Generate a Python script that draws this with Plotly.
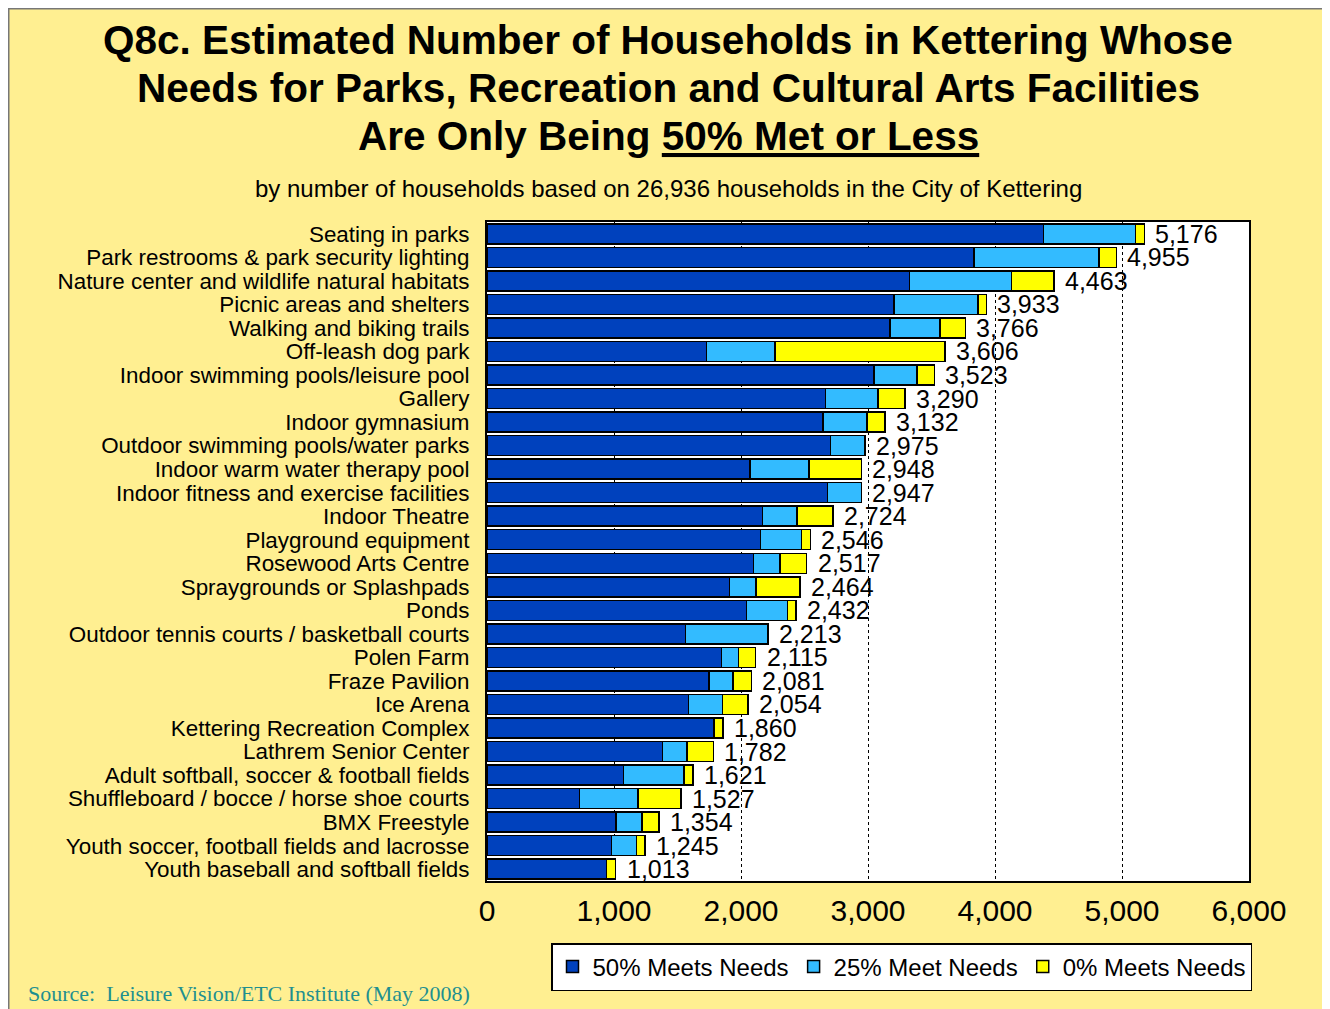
import plotly.graph_objects as go

categories = [
    "Seating in parks",
    "Park restrooms & park security lighting",
    "Nature center and wildlife natural habitats",
    "Picnic areas and shelters",
    "Walking and biking trails",
    "Off-leash dog park",
    "Indoor swimming pools/leisure pool",
    "Gallery",
    "Indoor gymnasium",
    "Outdoor swimming pools/water parks",
    "Indoor warm water therapy pool",
    "Indoor fitness and exercise facilities",
    "Indoor Theatre",
    "Playground equipment",
    "Rosewood Arts Centre",
    "Spraygrounds or Splashpads",
    "Ponds",
    "Outdoor tennis courts / basketball courts",
    "Polen Farm",
    "Fraze Pavilion",
    "Ice Arena",
    "Kettering Recreation Complex",
    "Lathrem Senior Center",
    "Adult softball, soccer & football fields",
    "Shuffleboard / bocce / horse shoe courts",
    "BMX Freestyle",
    "Youth soccer, football fields and lacrosse",
    "Youth baseball and softball fields",
]

meets50 = [4383, 3835, 3326, 3205, 3175, 1728, 3047, 2667, 2646, 2704, 2071, 2680, 2168, 2153,
           2100, 1911, 2043, 1562, 1848, 1748, 1588, 1787, 1383, 1074, 729, 1016, 982, 940]
meets25 = [723, 982, 803, 661, 390, 540, 337, 412, 346, 271, 464, 267, 273, 323,
           209, 207, 322, 651, 134, 189, 266, 0, 192, 478, 460, 204, 194, 0]
meets0 = [70, 138, 334, 67, 201, 1338, 139, 211, 140, 0, 413, 0, 283, 70,
          208, 346, 67, 0, 133, 144, 200, 73, 207, 69, 338, 134, 69, 73]
totals = [5176, 4955, 4463, 3933, 3766, 3606, 3523, 3290, 3132, 2975, 2948, 2947, 2724, 2546,
          2517, 2464, 2432, 2213, 2115, 2081, 2054, 1860, 1782, 1621, 1527, 1354, 1245, 1013]

series_names = ["50% Meets Needs", "25% Meet Needs", "0% Meets Needs"]
series_colors = ["#0041BD", "#33BBFF", "#FFFF00"]
tick_vals = [0, 1000, 2000, 3000, 4000, 5000, 6000]

FONT = "Liberation Sans, Arial, sans-serif"
BG = "#FFEF91"

# page has an 8px body margin: the figure starts at page (8, 8)
OFF = 8
W, H = 1330 - OFF, 1009 - OFF
L, R, T, B = 487 - OFF, 81, 222 - OFF, 128
PW, PH = W - L - R, H - T - B


def px(xp):
    return (xp - OFF - L) / PW


def py(yp):
    return (H - B - (yp - OFF)) / PH


fig = go.Figure()
for name, vals, col in zip(series_names, [meets50, meets25, meets0], series_colors):
    fig.add_trace(go.Bar(
        y=categories,
        x=[v if v else None for v in vals],
        name=name,
        orientation="h",
        marker=dict(color=col, line=dict(color="black", width=1.5)),
        hoverinfo="x+y",
    ))

annotations = []
for c, t in zip(categories, totals):
    annotations.append(dict(
        x=t, y=c, xref="x", yref="y", text=f"{t:,}", showarrow=False,
        xanchor="left", yanchor="middle", xshift=9,
        font=dict(family=FONT, size=25, color="black"),
    ))

title_lines = [
    "Q8c. Estimated Number of Households in Kettering Whose",
    "Needs for Parks, Recreation and Cultural Arts Facilities",
    "Are Only Being <u>50% Met or Less</u>",
]
for line, yp in zip(title_lines, [40, 88, 136]):
    annotations.append(dict(
        x=px(668), y=py(yp), xref="paper", yref="paper", text=f"<b>{line}</b>",
        showarrow=False, xanchor="center", yanchor="middle",
        font=dict(family=FONT, size=40.5, color="black"),
    ))

annotations.append(dict(
    x=px(668), y=py(188), xref="paper", yref="paper",
    text="by number of households based on 26,936 households in the City of Kettering",
    showarrow=False, xanchor="center", yanchor="middle",
    font=dict(family=FONT, size=24, color="black"),
))
annotations.append(dict(
    x=px(26), y=py(993), xref="paper", yref="paper",
    text="Source:  Leisure Vision/ETC Institute (May 2008)",
    showarrow=False, xanchor="left", yanchor="middle",
    font=dict(family="Liberation Serif, Times New Roman, serif", size=22, color="#1F8F8F"),
))

shapes = [
    dict(type="line", xref="paper", yref="paper", x0=px(OFF), x1=px(1335), y0=py(OFF), y1=py(OFF),
         line=dict(color="#777777", width=3)),
    dict(type="line", xref="paper", yref="paper", x0=px(OFF), x1=px(OFF), y0=py(OFF), y1=py(1015),
         line=dict(color="#777777", width=3)),
]

fig.update_layout(
    barmode="stack",
    bargap=0.15,
    width=W, height=H,
    margin=dict(l=L, r=R, t=T, b=B, autoexpand=False),
    paper_bgcolor=BG,
    plot_bgcolor="white",
    font=dict(family=FONT, color="black"),
    showlegend=True,
    legend=dict(
        orientation="h", x=px(1252), y=py(943), xanchor="right", yanchor="top",
        bgcolor="white", bordercolor="black", borderwidth=1.5,
        font=dict(family=FONT, size=24, color="black"),
        itemwidth=30, tracegroupgap=0, traceorder="normal",
    ),
    annotations=annotations,
    shapes=shapes,
    xaxis=dict(
        range=[0, 6000], tickvals=tick_vals, tickformat=",d",
        showgrid=True, gridcolor="black", gridwidth=1, griddash="3px,3px",
        showline=True, linecolor="black", linewidth=1.5, mirror=True,
        zeroline=False, ticks="", ticklabelstandoff=2,
        tickfont=dict(family=FONT, size=30, color="black"),
    ),
    yaxis=dict(
        range=[len(categories) - 0.5, -0.5], showgrid=False,
        tickmode="array", tickvals=categories, ticktext=categories,
        showline=True, linecolor="black", linewidth=2, mirror=True,
        ticks="", ticklabelstandoff=11,
        tickfont=dict(family=FONT, size=22.4, color="black"),
    ),
)

fig.write_html("out.html")
